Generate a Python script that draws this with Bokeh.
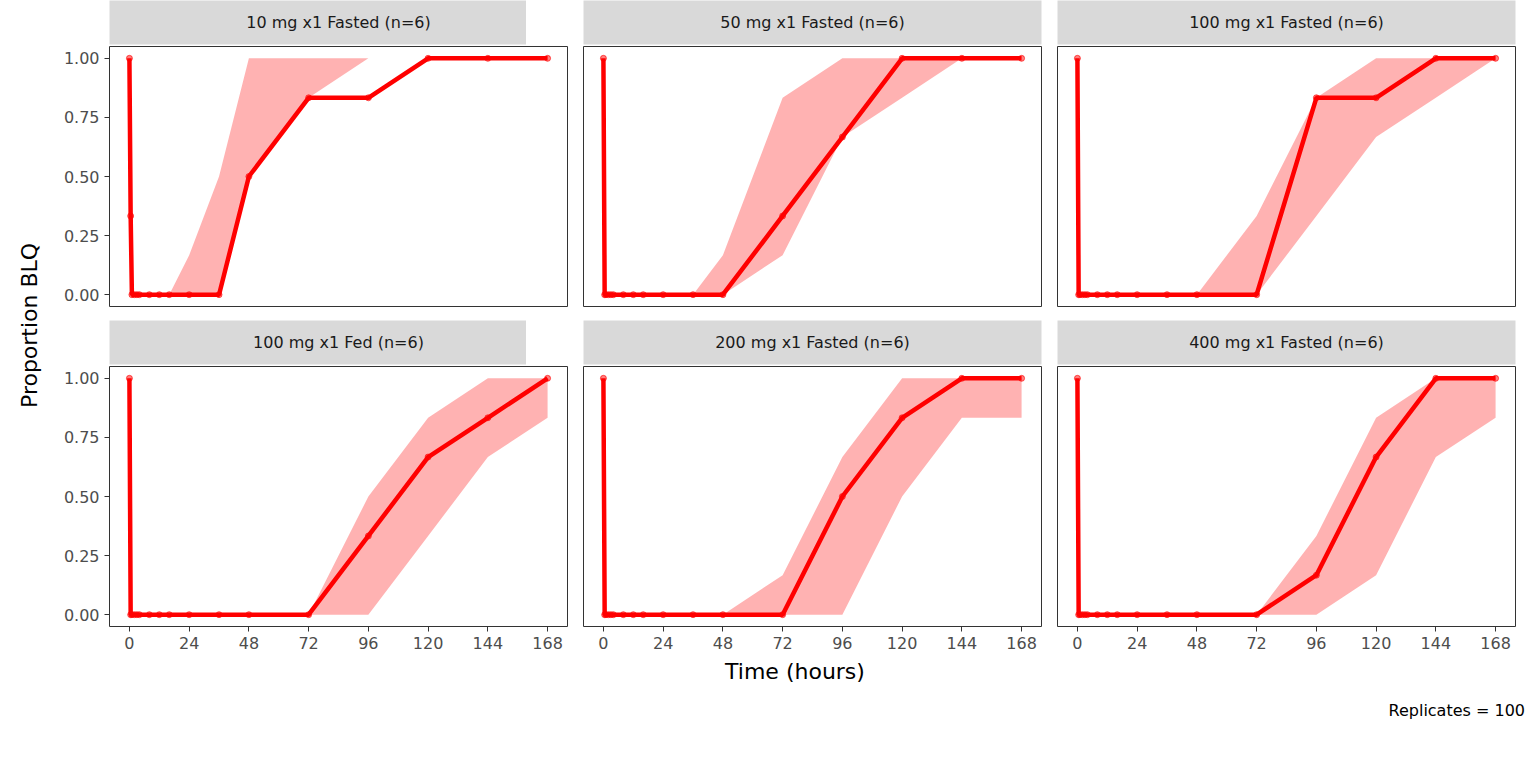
from bokeh.plotting import figure
from bokeh.layouts import gridplot, row, column
from bokeh.models import Div, FixedTicker, Range1d
from bokeh.core.properties import value
from bokeh.embed import file_html
from bokeh.resources import INLINE

panels = ["10 mg x1 Fasted (n=6)", "50 mg x1 Fasted (n=6)", "100 mg x1 Fasted (n=6)",
          "100 mg x1 Fed (n=6)", "200 mg x1 Fasted (n=6)", "400 mg x1 Fasted (n=6)"]
time = [0, 0.5, 1, 2, 3, 4, 8, 12, 16, 24, 36, 48, 72, 96, 120, 144, 168]
band_time = [1, 2, 3, 4, 8, 12, 16, 24, 36, 48, 72, 96, 120, 144, 168]
obs = [
    [1, 0.333, 0, 0, 0, 0, 0, 0, 0, 0, 0, 0.5, 0.833, 0.833, 1, 1, 1],
    [1, 0, 0, 0, 0, 0, 0, 0, 0, 0, 0, 0, 0.333, 0.667, 1, 1, 1],
    [1, 0, 0, 0, 0, 0, 0, 0, 0, 0, 0, 0, 0, 0.833, 0.833, 1, 1],
    [1, 0, 0, 0, 0, 0, 0, 0, 0, 0, 0, 0, 0, 0.333, 0.667, 0.833, 1],
    [1, 0, 0, 0, 0, 0, 0, 0, 0, 0, 0, 0, 0, 0.5, 0.833, 1, 1],
    [1, 0, 0, 0, 0, 0, 0, 0, 0, 0, 0, 0, 0, 0.167, 0.667, 1, 1],
]
band_lo = [
    [0, 0, 0, 0, 0, 0, 0, 0, 0, 0.5, 0.833, 1, 1, 1, 1],
    [0, 0, 0, 0, 0, 0, 0, 0, 0, 0, 0.167, 0.667, 0.833, 1, 1],
    [0, 0, 0, 0, 0, 0, 0, 0, 0, 0, 0, 0.333, 0.667, 0.833, 1],
    [0, 0, 0, 0, 0, 0, 0, 0, 0, 0, 0, 0, 0.333, 0.667, 0.833],
    [0, 0, 0, 0, 0, 0, 0, 0, 0, 0, 0, 0, 0.5, 0.833, 0.833],
    [0, 0, 0, 0, 0, 0, 0, 0, 0, 0, 0, 0, 0.167, 0.667, 0.833],
]
band_hi = [
    [0, 0, 0, 0, 0, 0, 0, 0.167, 0.5, 1, 1, 1, 1, 1, 1],
    [0, 0, 0, 0, 0, 0, 0, 0, 0, 0.167, 0.833, 1, 1, 1, 1],
    [0, 0, 0, 0, 0, 0, 0, 0, 0, 0, 0.333, 0.833, 1, 1, 1],
    [0, 0, 0, 0, 0, 0, 0, 0, 0, 0, 0, 0.5, 0.833, 1, 1],
    [0, 0, 0, 0, 0, 0, 0, 0, 0, 0, 0.167, 0.667, 1, 1, 1],
    [0, 0, 0, 0, 0, 0, 0, 0, 0, 0, 0, 0.333, 0.833, 1, 1],
]
xticks = [0, 24, 48, 72, 96, 120, 144, 168]
yticks = [0, 0.25, 0.5, 0.75, 1.0]
ylabels = {0: "0.00", 0.25: "0.25", 0.5: "0.50", 0.75: "0.75", 1.0: "1.00"}

FONT = "DejaVu Sans"
strips, figs = [], []
for i, name in enumerate(panels):
    left = i % 3 == 0
    bottom = i >= 3
    s = figure(frame_width=458, frame_height=44, output_backend="svg", toolbar_location=None,
               x_range=Range1d(0, 1), y_range=Range1d(0, 1),
               min_border_left=8 if not left else 0, min_border_right=8,
               min_border_top=0, min_border_bottom=2)
    s.axis.visible = False
    s.grid.visible = False
    s.outline_line_color = None
    s.background_fill_color = "#d9d9d9"
    s.text(x=[0.5], y=[0.5], text=[name], text_align="center", text_baseline="middle",
           text_font=value(FONT), text_font_size="16px", text_color="#1a1a1a")
    strips.append(s)

    p = figure(frame_width=458, frame_height=260, output_backend="svg", toolbar_location=None,
               x_range=Range1d(-8, 176), y_range=Range1d(-0.05, 1.05),
               min_border_left=8 if not left else 0, min_border_right=8, min_border_top=0,
               min_border_bottom=14)
    p.background_fill_color = "white"
    p.outline_line_color = "#333333"
    p.outline_line_width = 1
    p.xgrid.visible = False
    p.ygrid.visible = False
    p.xaxis.ticker = FixedTicker(ticks=xticks)
    p.yaxis.ticker = FixedTicker(ticks=yticks)
    p.yaxis.major_label_overrides = ylabels
    for ax in (p.xaxis[0], p.yaxis[0]):
        ax.axis_line_color = None
        ax.major_tick_line_color = "#333333"
        ax.major_tick_out = 5
        ax.major_tick_in = 0
        ax.minor_tick_line_color = None
        ax.major_label_text_font = FONT
        ax.major_label_text_font_size = "16px"
        ax.major_label_text_color = "#4d4d4d"
    p.xaxis.visible = bottom
    p.yaxis.visible = left
    p.varea(x=band_time, y1=band_lo[i], y2=band_hi[i], fill_color="#ff0000", fill_alpha=0.3)
    p.line(time, obs[i], line_color="red", line_width=4.5)
    p.scatter(time, obs[i], size=6, fill_color="red", fill_alpha=0.5, line_color="red", line_alpha=0.6)
    figs.append(p)

grid = gridplot([strips[:3], figs[:3], strips[3:], figs[3:]], toolbar_location=None, merge_tools=False)
ylab = Div(text="Proportion BLQ", width=50, height=640,
           styles={"font-family": FONT, "font-size": "22px", "color": "black",
                   "writing-mode": "vertical-rl", "transform": "rotate(180deg)",
                   "text-align": "center", "display": "flex", "justify-content": "center",
                   "align-items": "center"})
xlab = Div(text="Time (hours)", width=1460, height=34,
           styles={"font-family": FONT, "font-size": "22px", "color": "black",
                   "text-align": "center", "width": "1460px"})
cap = Div(text="Replicates = 100", width=1460, height=26,
          styles={"font-family": FONT, "font-size": "16px", "color": "black",
                  "text-align": "right", "width": "1460px"})
layout = row(ylab, column(grid, xlab, cap))
open("out.html", "w").write(file_html(layout, INLINE))
